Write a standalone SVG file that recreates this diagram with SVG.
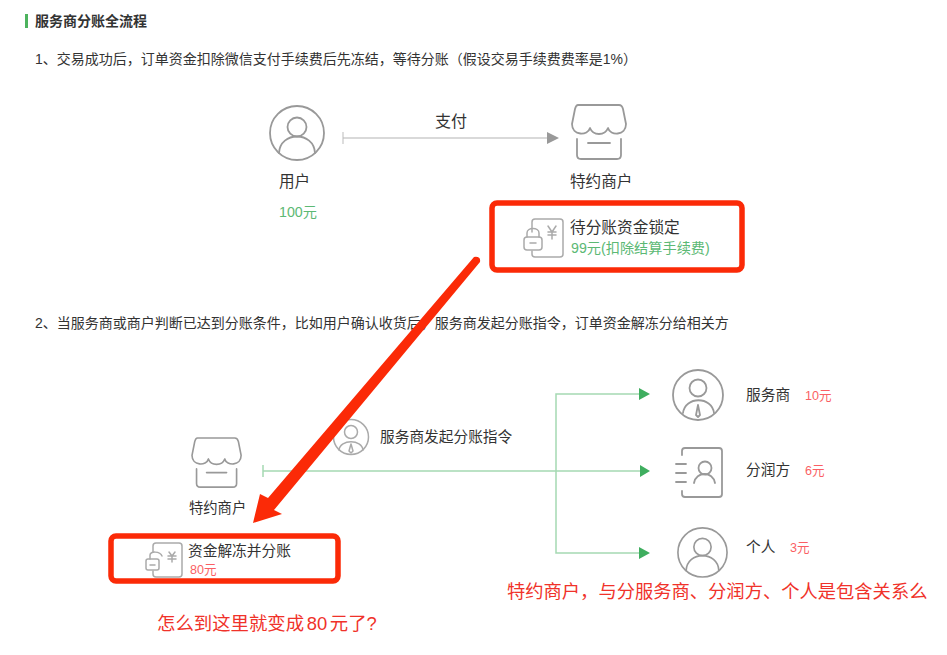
<svg xmlns="http://www.w3.org/2000/svg" width="947" height="655" viewBox="0 0 947 655">
<style>
text{font-family:"Liberation Sans","Noto Sans CJK SC",sans-serif}
.t{font-size:14px;fill:#333}
.l{font-size:15.6px;fill:#333}
.m{font-size:14.7px;fill:#333}
.g{font-size:14.2px;fill:#5cb974}
.r{font-size:12.6px;fill:#fa5f64}
.a{fill:#f0322a}
.i{fill:none;stroke:#999;stroke-width:1.8;stroke-linecap:round;stroke-linejoin:round}
.i2{fill:none;stroke:#aaa;stroke-width:1.5;stroke-linecap:round;stroke-linejoin:round}
.box{fill:none;stroke:#fb2a07;stroke-width:5.5}
.gl{fill:none;stroke:#a5d9b3;stroke-width:1.5}
</style>
<defs>
<g id="shop"><path class="i" d="M6 0H47Q50 0 51 4L54 19C54 31 38 31 36 23C33 31 21 31 18 23C16 31 0 31 0 19L3 4Q4 0 6 0Z"/><path class="i" d="M5 34V50Q5 54 9 54H45Q49 54 49 50V34M16 38H38"/></g>
<g id="user"><circle class="i" cx="28" cy="28" r="27"/><circle class="i" cx="28" cy="22" r="9.5"/><path class="i" d="M10 48C11 26 45 26 46 48"/></g>
</defs>
<rect width="947" height="655" fill="#fff"/>
<g id="heading"><rect x="25" y="14" width="3" height="14" fill="#4db35e"/><text x="35" y="26" font-size="14" font-weight="bold" fill="#333">服务商分账全流程</text></g>
<text id="step1" class="t" x="35" y="64">1、交易成功后，订单资金扣除微信支付手续费后先冻结，等待分账（假设交易手续费费率是1%）</text>
<text id="step2" class="t" x="35" y="328">2、当服务商或商户判断已达到分账条件，比如用户确认收货后，服务商发起分账指令，订单资金解冻分给相关方</text>
<g id="connectors">
<path d="M343 138H547" fill="none" stroke="#ccc" stroke-width="1.5"/><path d="M343 132V144" stroke="#bbb" stroke-width="1"/>
<path d="M547 132L559 138L547 144Z" fill="#999"/>
<path class="gl" d="M263 471H640M263 465V477M639 394H556V553H639"/>
<path d="M639 388L650 394L639 400ZM640 465L650 471L640 477ZM639 547L650 553L639 559Z" fill="#3fae5f"/>
</g>
<g id="pay-label"><text x="435" y="127" font-size="16" fill="#333">支付</text></g>
<g id="user-node"><use href="#user" x="269" y="105"/><text class="l" x="279" y="187">用户</text><text class="g" x="279" y="217">100元</text></g>
<g id="merchant-top"><use href="#shop" x="572" y="105"/><text class="l" x="570" y="187">特约商户</text></g>
<g id="frozen-node">
<path class="i2" d="M532 232V222Q532 219 535 219H560Q563 219 563 222V254Q563 257 560 257H535Q532 257 532 254V251"/>
<rect class="i2" x="524" y="237" width="18" height="13" rx="3"/><path class="i2" d="M527 237V233C527 227 539 227 539 233V237M530 243H536M548 226L552 232L556 226M552 232V239M548 232H556M548 235H556"/>
<text x="570" y="233" font-size="15.7" fill="#333">待分账资金锁定</text><text class="g" x="571" y="253">99元(扣除结算手续费)</text>
</g>
<g id="service-instruction"><circle class="i2" cx="351" cy="437" r="17.5"/><circle class="i2" cx="351" cy="432" r="6.5"/><path class="i2" d="M339 450C340 439 362 439 363 450M351 444L349 451L351 453L353 451Z"/><text x="380" y="442" font-size="14.7" fill="#333">服务商发起分账指令</text></g>
<g id="merchant-bottom"><use href="#shop" transform="translate(192 438) scale(.91)"/><text x="189" y="513" font-size="14.3" fill="#333">特约商户</text></g>
<g id="unfreeze-node">
<path class="i2" d="M153 552V546Q153 543 156 543H179Q182 543 182 546V574Q182 577 179 577H156Q153 577 153 574V571"/>
<rect class="i2" x="146" y="559" width="13" height="11" rx="2"/><path class="i2" d="M150 559V555C150 551 160 551 162 556M150 565H155M169 552L172 556L175 552M172 556V562M168 556H176M168 559H176"/>
<text x="188" y="556" font-size="14.7" fill="#333">资金解冻并分账</text><text class="r" x="190" y="574">80元</text>
</g>
<g id="provider-node"><circle class="i" cx="698" cy="395" r="25"/><circle class="i" cx="698" cy="388" r="8.5"/><path class="i" d="M683 413C685 396 712 396 714 413M698 405L696 415L698 417L700 415Z"/><text class="m" x="746" y="400">服务商</text><text class="r" x="805" y="400">10元</text></g>
<g id="share-node"><path class="i" d="M682 455V451Q682 448 685 448H719Q722 448 722 451V494Q722 497 719 497H685Q682 497 682 494V491M676 464H686M676 473H686M676 482H686"/><circle class="i" cx="705" cy="468" r="6.5"/><path class="i" d="M694 483C696 471 713 471 715 483"/><text class="m" x="746" y="475">分润方</text><text class="r" x="805" y="475">6元</text></g>
<g id="person-node"><use href="#user" transform="translate(677 527) scale(.91)"/><text class="m" x="746" y="552">个人</text><text class="r" x="790" y="552">3元</text></g>
<g id="annotations">
<rect class="box" x="492" y="203" width="250" height="67" rx="5"/>
<rect class="box" x="111" y="536" width="227" height="45" rx="5"/>
<path d="M474 257L268 498L260 494L253 523L282 514L274 510L480 262Q481 256 474 257Z" fill="#fb2a07"/>
<text class="a" x="507" y="598" font-size="18.3">特约商户，与分服务商、分润方、个人是包含关系么</text>
<text class="a" x="157" y="630" font-size="18.4" word-spacing="-2.5">怎么到这里就变成 80 元了?</text>
</g>
</svg>
